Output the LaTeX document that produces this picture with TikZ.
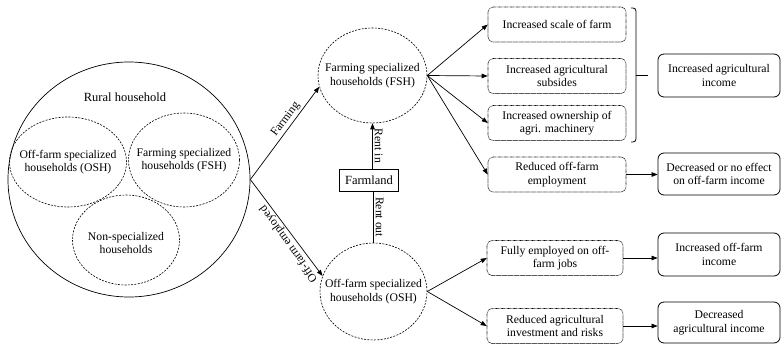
\documentclass[tikz,border=0pt]{standalone}
\usepackage{fontspec}
\setmainfont{Liberation Serif}
\usetikzlibrary{arrows.meta,shapes.geometric}
\begin{document}
\begin{tikzpicture}[x=1pt,y=-1pt,
    txt/.style={font=\fontsize{11.7}{13.5}\selectfont, align=center},
    big/.style={font=\fontsize{12.5}{14}\selectfont},
    grp/.style={draw, ellipse, inner sep=0pt, dash pattern=on 2pt off 1.3pt, line width=0.6pt},
    effect/.style={txt, draw, rounded corners=5pt, dash pattern=on 0.6pt off 0.6pt, line width=0.6pt, minimum width=138pt, minimum height=35pt, inner sep=0pt},
    result/.style={txt, draw, rounded corners=6pt, line width=0.8pt, minimum width=122pt, minimum height=42pt, inner sep=0pt},
    arr/.style={-{Triangle[length=6pt,width=4.5pt]}, line width=0.7pt}]
  \useasboundingbox (0,0) rectangle (781,345);
  \node[draw, ellipse, minimum width=242pt, minimum height=235pt, line width=0.7pt] (rural) at (129,179.5) {};
  \node[txt, big] (ruraltitle) at (125,97) {Rural household};
  \node[grp, minimum width=117pt, minimum height=90pt] (inosh) at (68,162) {};
  \node[txt] (inoshtxt) at (inosh) {Off-farm specialized\\households (OSH)};
  \node[grp, minimum width=111pt, minimum height=94pt] (infsh) at (184,160) {};
  \node[txt] (infshtxt) at (infsh) {Farming specialized\\households (FSH)};
  \node[grp, minimum width=107pt, minimum height=90pt] (innon) at (126,240) {};
  \node[txt] (innontxt) at ([yshift=-3pt]innon.center) {Non-specialized\\households};

  \node[grp, minimum width=109pt, minimum height=95pt] (fsh) at (372.5,75.5) {};
  \node[txt] (fshtxt) at (fsh) {Farming specialized\\households (FSH)};
  \node[grp, minimum width=107pt, minimum height=97pt] (osh) at (373.5,291.5) {};
  \node[txt] (oshtxt) at (osh) {Off-farm specialized\\households (OSH)};
  \node[txt, big, draw, line width=0.7pt, minimum width=59pt, minimum height=22pt, inner sep=0pt] (farm) at (369,180) {Farmland};

  \node[effect] (scale) at (557,24.5) {Increased scale of farm};
  \node[effect] (subsidy) at (557,76) {Increased agricultural\\subsides};
  \node[effect] (machine) at (557,123) {Increased ownership of\\agri. machinery};
  \node[effect] (lessjob) at (557,174.5) {Reduced off-farm\\employment};
  \node[effect, minimum width=136pt] (fulljob) at (555,258) {Fully employed on off-\\farm jobs};
  \node[effect, minimum width=136pt] (lessinv) at (555,326) {Reduced agricultural\\investment and risks};

  \node[result, minimum height=43pt] (agrinc) at (719,75.5) {Increased agricultural\\income};
  \node[result] (noeff) at (719,174) {Decreased or no effect\\on off-farm income};
  \node[result, minimum height=43pt] (offinc) at (719,254.5) {Increased off-farm\\income};
  \node[result, minimum height=41pt] (agrdec) at (719,322.5) {Decreased\\agricultural income};

  \draw[arr] (rural.east) -- node[txt, pos=0.6, sloped, above, inner sep=2pt] (farminglbl) {Farming} (fsh.192);
  \draw[arr] (rural.east) -- node[txt, pos=0.62, rotate=125.6, anchor=south, inner sep=2pt] (offlbl) {Off-farm employed} (osh.163);
  \draw[arr] (farm.north -| fsh.south) -- node[txt, midway, rotate=-90, anchor=south, inner sep=2pt] (rentin) {Rent in} (fsh.south);
  \draw[line width=0.7pt] (farm.south -| osh.north) -- node[txt, midway, rotate=-90, anchor=south, inner sep=2pt] (rentout) {Rent out} (osh.north);

  \draw[arr] (fsh.east) -- (scale.west);
  \draw[arr] (fsh.east) -- (subsidy.west);
  \draw[arr] (fsh.east) -- (machine.west);
  \draw[arr] (fsh.east) -- (lessjob.west);
  \draw[arr] (osh.east) -- (fulljob.west);
  \draw[arr] (osh.east) -- (lessinv.west);

  \draw[arr] (lessjob.east) -- (lessjob.east -| noeff.west);
  \draw[arr] (fulljob.east) -- (fulljob.east -| offinc.west);
  \draw[arr] (lessinv.east) -- (lessinv.east -| agrdec.west);

  \draw[line width=0.8pt, rounded corners=3pt] (631,8) -- (636,8) -- (636,142) -- (631,142);
  \draw[line width=0.8pt] (636,75.5) -- (648,75.5);
\end{tikzpicture}
\end{document}
